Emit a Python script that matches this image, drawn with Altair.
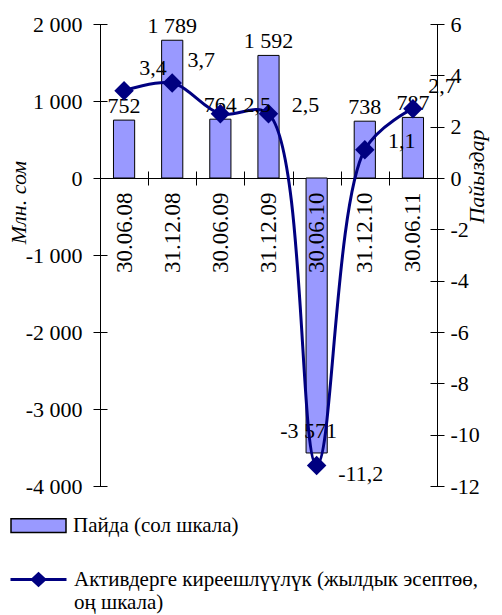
import altair as alt
import pandas as pd

# ---- data ----
dates = ["30.06.08", "31.12.08", "30.06.09", "31.12.09", "30.06.10", "31.12.10", "30.06.11"]
profit = [752, 1789, 764, 1592, -3571, 738, 787]          # Млн. сом (left scale)
roa = [3.4, 3.7, 2.5, 2.5, -11.2, 1.1, 2.7]              # % (right scale)
left_ticks = [-4000, -3000, -2000, -1000, 0, 1000, 2000]
right_ticks = [-12, -10, -8, -6, -4, -2, 0, 2, 4, 6]
bar_series = "Пайда (сол шкала)"
line_series = "Активдерге киреешлүүлүк (жылдык эсептөө, оң шкала)"
left_title = "Млн. сом"
right_title = "Пайыздар"
labels_up = ["30.06.08", "31.12.08", "30.06.11"]
labels_side = ["30.06.09", "31.12.09", "31.12.10"]
labels_down = ["30.06.10"]

df = pd.DataFrame({"date": dates, "profit": profit, "roa": roa})
df["profit_label"] = [f"{v:,}".replace(",", " ") for v in profit]
df["roa_label"] = [f"{v}".replace(".", ",") for v in roa]
df["s_bar"] = bar_series
df["s_line"] = line_series

W, H = 337, 462
FONT = "Liberation Serif"
NAVY = "#000080"
BARFILL = "#9999FF"

yl_scale = alt.Scale(domain=[left_ticks[0], left_ticks[-1]], nice=False, zero=False)
yr_scale = alt.Scale(domain=[right_ticks[0], right_ticks[-1]], nice=False, zero=False)

x_enc = alt.X(
    "date:N", sort=dates,
    scale=alt.Scale(paddingInner=0, paddingOuter=0),
    axis=alt.Axis(orient="bottom", offset=-(2 * H / 3 + 7), domain=False, tickBand="extent",
                  tickSize=14, labelAngle=-90, labelPadding=7, labelFontSize=23,
                  title=None, zindex=1),
)

left_axis = alt.Axis(
    orient="left", offset=-7, domain=False, tickSize=14, values=left_ticks,
    labelExpr="(datum.value < 0 ? '-' : '') + replace(format(abs(datum.value), ','), ',', ' ')",
    labelPadding=11, title=left_title, titleAngle=270, titleAlign="center",
    titleBaseline="middle", titleX=-89, titleY=178,
)
right_axis = alt.Axis(
    orient="right", offset=-7, domain=False, tickSize=14, values=right_ticks,
    labelExpr="(datum.value < 0 ? '-' : '') + abs(datum.value)",
    labelPadding=6, title=right_title, titleAngle=270, titleAlign="center",
    titleBaseline="middle", titleX=46, titleY=152,
)

base = alt.Chart(df)

bars = base.mark_bar(stroke="black", strokeWidth=1, width={"band": 0.44}).encode(
    x=x_enc,
    y=alt.Y("profit:Q", scale=yl_scale, axis=left_axis),
    fill=alt.Fill("s_bar:N", scale=alt.Scale(domain=[bar_series], range=[BARFILL]),
                  legend=alt.Legend(orient="none", legendX=-90, legendY=473, title=None,
                                    symbolType="M-1,-0.25H1V0.25H-1Z", symbolSize=3025,
                                    symbolStrokeColor="black", symbolStrokeWidth=1.5,
                                    symbolFillColor=BARFILL, labelOffset=6)),
)
bar_txt_pos = base.transform_filter("datum.profit >= 0").mark_text(
    font=FONT, fontSize=22, dy=-7, baseline="alphabetic", color="black"
).encode(x=x_enc, y=alt.Y("profit:Q", scale=yl_scale), text="profit_label:N")
bar_txt_neg = base.transform_filter("datum.profit < 0").mark_text(
    font=FONT, fontSize=22, dy=-15, dx=-8, baseline="alphabetic", color="black"
).encode(x=x_enc, y=alt.Y("profit:Q", scale=yl_scale), text="profit_label:N")
bar_layer = alt.layer(bars, bar_txt_pos, bar_txt_neg)

line = base.mark_line(interpolate="catmull-rom", strokeWidth=3).encode(
    x=x_enc,
    y=alt.Y("roa:Q", scale=yr_scale, axis=right_axis),
    stroke=alt.Stroke("s_line:N", scale=alt.Scale(domain=[line_series], range=[NAVY]),
                      legend=alt.Legend(orient="none", legendX=-91, legendY=526, title=None,
                                        symbolType="M-1,0H1M-0.22,0L0,-0.2L0.22,0L0,0.2Z",
                                        symbolSize=3136, symbolStrokeWidth=3,
                                        symbolStrokeColor=NAVY, symbolFillColor=NAVY,
                                        labelOffset=6,
                                        labelExpr="[substring(datum.label, 0, indexof(datum.label, 'оң') - 1), substring(datum.label, indexof(datum.label, 'оң'))]")),
)
points = base.mark_point(shape="diamond", filled=True, size=380, color=NAVY, opacity=1).encode(
    x=x_enc, y=alt.Y("roa:Q", scale=yr_scale)
)


def roa_text(sel, dx, dy):
    return base.transform_filter(alt.FieldOneOfPredicate(field="date", oneOf=sel)).mark_text(
        font=FONT, fontSize=22, dx=dx, dy=dy, baseline="alphabetic", color="black"
    ).encode(x=x_enc, y=alt.Y("roa:Q", scale=yr_scale), text="roa_label:N")


line_layer = alt.layer(line, points, roa_text(labels_up, 29, -16),
                       roa_text(labels_side, 37, -2), roa_text(labels_down, 44, 16))

left_dom = base.mark_point(opacity=0).encode(
    x=x_enc,
    y=alt.Y("profit:Q", scale=yl_scale,
            axis=alt.Axis(orient="left", domain=True, ticks=False, labels=False, grid=True,
                          values=[0], gridColor="black", gridOpacity=1, gridWidth=1, title=None)),
)
right_dom = base.mark_point(opacity=0).encode(
    x=x_enc,
    y=alt.Y("roa:Q", scale=yr_scale,
            axis=alt.Axis(orient="right", domain=True, ticks=False, labels=False, title=None)),
)

chart = alt.layer(bar_layer, line_layer, left_dom, right_dom).resolve_scale(
    y="independent"
).properties(
    width=W, height=H,
    autosize=alt.AutoSizeParams(type="none"),
    padding={"left": 100, "top": 24, "right": 65, "bottom": 129},
).configure_view(stroke=None).configure_axis(
    labelFont=FONT, titleFont=FONT, labelColor="black", titleColor="black",
    tickColor="black", domainColor="black", labelFontSize=22, titleFontSize=22,
    titleFontStyle="italic", titleFontWeight="normal", grid=False, tickWidth=1, domainWidth=1,
).configure_legend(
    labelFont=FONT, labelFontSize=21, labelColor="black", padding=0, labelLimit=600,
)

chart.save("out.html", embed_options={"renderer": "svg", "actions": False})
